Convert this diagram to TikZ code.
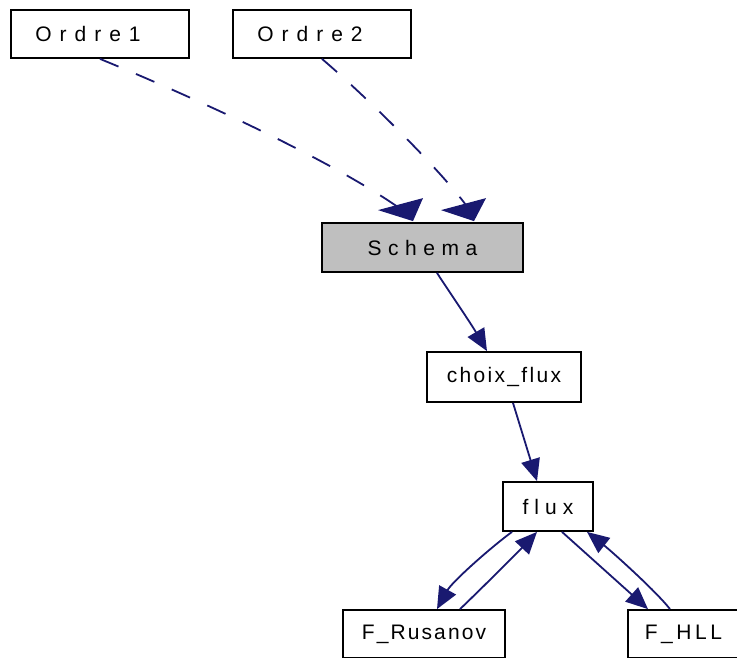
\documentclass[tikz,border=0pt]{standalone}
\usepackage{fontspec}
\setmainfont{Liberation Sans}
\usetikzlibrary{arrows.meta,calc}
\definecolor{edgeblue}{HTML}{191970}
\definecolor{schemagray}{HTML}{BFBFBF}
\newcommand\lsp[2]{{\addfontfeature{LetterSpace=#1}#2}}
\begin{document}
\begin{tikzpicture}[x=1pt,y=-1pt,
  box/.style={draw=black, line width=1.8pt, rectangle, inner sep=0pt,
    font=\fontsize{21}{24}\selectfont},
  edge/.style={draw=edgeblue, line width=1.8pt},
  arr/.style={edge, -{Triangle[length=22pt,width=19pt]}},
  dashedge/.style={edge, dash pattern=on 20pt off 19pt},
  headfill/.style={fill=edgeblue, draw=none}]
\useasboundingbox (0,0) rectangle (737,657);
\node[box, minimum width=178pt, minimum height=48pt] (o1) at (100,34) {\hspace*{-24pt}\lsp{38}{Ordre1}};
\node[box, minimum width=178pt, minimum height=48pt] (o2) at (322,34) {\hspace*{-24pt}\lsp{38}{Ordre2}};
\node[box, fill=schemagray, minimum width=201pt, minimum height=49pt] (sch) at (422.5,247.5) {\lsp{31}{Schema}};
\node[box, minimum width=154pt, minimum height=50pt] (cf) at (504,377) {\lsp{11}{choix\_flux}};
\node[box, minimum width=90pt, minimum height=49pt] (fx) at (548,506.5) {\lsp{29}{flux}};
\node[box, minimum width=162pt, minimum height=48pt] (fr) at (424,634) {\lsp{10}{F\_Rusanov}};
\node[box, minimum width=111pt, minimum height=48pt] (fh) at (683.5,634) {\lsp{17}{F\_HLL}};
% dashed edges
\coordinate (e1) at ($(sch.north)+(-24.5,-15)$);
\coordinate (e2) at ($(sch.north)+(43.5,-17)$);
\draw[dashedge] (o1.south) .. controls (200,100) and (330,160) .. (e1);
\draw[dashedge] (o2.south) .. controls (370,100) and (440,170) .. (e2);
\fill[headfill] ($(sch.north)+(-44.5,-12)$) -- ($(sch.north)+(0.5,-24)$) -- ($(sch.north)+(-9.5,-1)$) -- cycle;
\fill[headfill] ($(sch.north)+(18.5,-12)$) -- ($(sch.north)+(63.5,-24)$) -- ($(sch.north)+(51.5,-1)$) -- cycle;
% solid edges
\draw[arr] ($(sch.south)+(14.5,0)$) .. controls (448,290) and (470,322) .. ($(cf.north)+(-17,0)$);
\draw[arr] ($(cf.south)+(9,0)$) -- ($(fx.north)+(-11,0)$);
\draw[arr] ($(fx.south)+(-36,0)$) .. controls (490,548) and (452,582) .. ($(fr.north)+(13,0)$);
\draw[arr] ($(fr.north)+(36,0)$) .. controls (480,590) and (520,550) .. ($(fx.south)+(-11,0)$);
\draw[arr] ($(fx.south)+(14,0)$) -- ($(fh.north)+(-35.5,0)$);
\draw[arr] ($(fh.north)+(-13.5,0)$) .. controls (655,590) and (610,550) .. ($(fx.south)+(39,0)$);
\end{tikzpicture}
\end{document}
